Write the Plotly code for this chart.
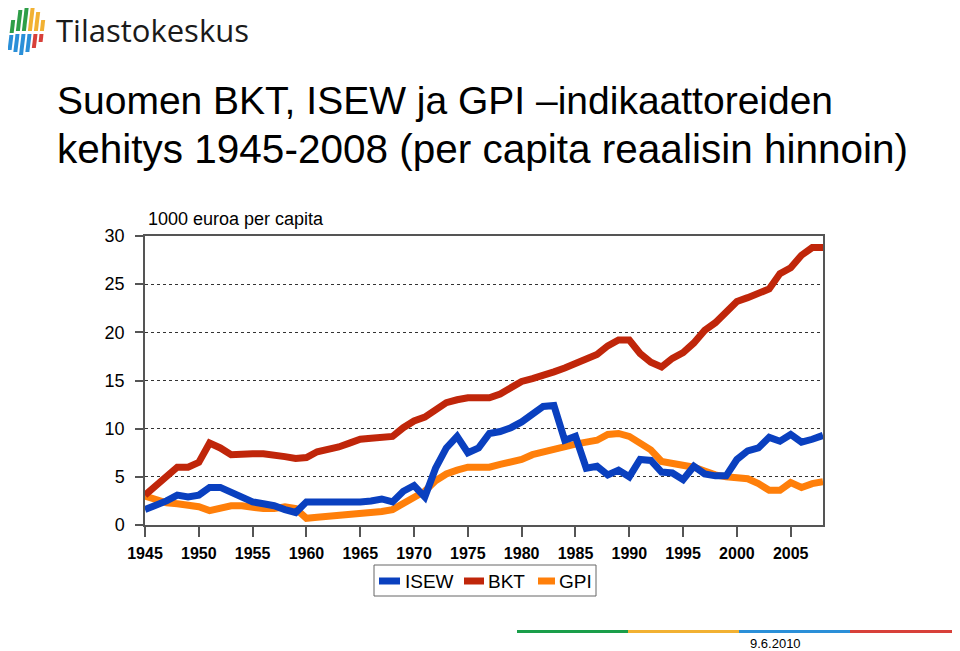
import plotly.graph_objects as go

years = list(range(1945, 2009))

bkt = [3.1, 4.0, 5.0, 6.0, 6.0, 6.5, 8.5, 8.0, 7.3, 7.4,
       7.4, 7.4, 7.3, 7.1, 6.9, 7.0, 7.6, 7.8, 8.1, 8.5,
       8.9, 9.0, 9.1, 9.2, 10.1, 10.8, 11.2, 12.0, 12.7, 13.0,
       13.2, 13.2, 13.2, 13.6, 14.3, 14.9, 15.2, 15.5, 15.9, 16.3,
       16.8, 17.2, 17.7, 18.6, 19.2, 19.2, 17.8, 16.9, 16.4, 17.3,
       17.9, 18.9, 20.2, 21.0, 22.0, 23.2, 23.6, 24.0, 24.5, 26.1,
       26.7, 28.0, 28.8, 28.8]

isew = [1.6, 2.0, 2.5, 3.1, 2.9, 3.1, 3.9, 3.9, 3.4, 2.8,
        2.4, 2.2, 2.0, 1.6, 1.3, 2.4, 2.4, 2.3, 2.3, 2.4,
        2.4, 2.5, 2.7, 2.4, 3.5, 4.1, 2.9, 5.9, 8.0, 9.2,
        7.5, 8.0, 9.5, 9.7, 10.1, 10.7, 11.5, 12.3, 12.4, 8.8,
        9.2, 5.9, 6.1, 5.2, 5.7, 5.0, 6.8, 6.7, 5.5, 5.4,
        4.7, 6.1, 5.3, 5.1, 5.1, 6.8, 7.7, 8.0, 9.1, 8.7,
        9.4, 8.6, 8.9, 9.3]

gpi = [3.0, 2.6, 2.3, 2.2, 2.1, 1.9, 1.5, 1.7, 2.0, 2.0,
       1.8, 1.7, 1.7, 1.9, 1.7, 0.7, 0.8, 0.9, 0.9, 1.0,
       1.1, 1.3, 1.4, 1.6, 2.2, 2.9, 3.5, 4.6, 5.3, 5.7,
       6.0, 6.0, 6.0, 6.3, 6.6, 6.8, 7.3, 7.6, 7.8, 8.1,
       8.4, 8.6, 8.8, 9.4, 9.5, 9.2, 8.5, 7.8, 6.6, 6.4,
       6.3, 6.0, 5.6, 5.2, 5.0, 4.9, 4.8, 4.3, 3.6, 3.6,
       4.4, 3.9, 4.3, 4.5]

series_names = ["ISEW", "BKT", "GPI"]
series_colors = {"ISEW": "#0A40BF", "BKT": "#C0260A", "GPI": "#FF7F0A"}

x_ticks = [1945, 1950, 1955, 1960, 1965, 1970, 1975, 1980, 1985, 1990, 1995, 2000, 2005]
y_ticks = [0, 5, 10, 15, 20, 25, 30]

# window pixel geometry (page body has an 8px margin)
OFF = 8
WIN_W, WIN_H = 960, 651
L, R, T, B = 145, 823, 236, 525
W, H = WIN_W - OFF, WIN_H - OFF


def px(x):
    return (x - L) / (R - L)


def py(y):
    return (B - y) / (B - T)


FONT = "Liberation Sans, Arial, sans-serif"

fig = go.Figure()
values = {"ISEW": isew, "BKT": bkt, "GPI": gpi}
for name in ["GPI", "BKT", "ISEW"]:
    fig.add_trace(go.Scatter(x=years, y=values[name], name=name, mode="lines",
                             showlegend=False,
                             line=dict(color=series_colors[name], width=7)))

shapes = []
# logo bars (slanted)
bars = [
    (7, 20, 33, "#2E9E48"), (7, 35, 50, "#2A8FD8"),
    (13, 10, 31, "#2E9E48"), (13, 34, 52, "#2A8FD8"),
    (19, 3, 31, "#2E9E48"), (19, 34, 55, "#2A8FD8"),
    (25, 5, 31, "#F2B132"), (25, 34, 52, "#2A8FD8"),
    (31, 12, 31, "#F2B132"), (31, 34, 48, "#D8403A"),
    (37, 20, 31, "#F2B132"), (37, 34, 42, "#D8403A"),
]
for bx, y0, y1, c in bars:
    s0 = (55 - y1) * 0.12
    s1 = (55 - y0) * 0.12
    path = (f"M {px(bx + s0)},{py(y1)} L {px(bx + s0 + 4)},{py(y1)} "
            f"L {px(bx + s1 + 4)},{py(y0)} L {px(bx + s1)},{py(y0)} Z")
    shapes.append(dict(type="path", xref="paper", yref="paper", path=path,
                       fillcolor=c, line=dict(width=0), layer="above"))

# bottom colour strip
for x0, x1, c in [(517, 628, "#1A9E4A"), (628, 739, "#F2B132"),
                  (739, 850, "#2A8FD8"), (850, 960, "#D8403A")]:
    shapes.append(dict(type="rect", xref="paper", yref="paper",
                       x0=px(x0), x1=px(x1), y0=py(633), y1=py(630),
                       fillcolor=c, line=dict(width=0)))

# legend box
shapes.append(dict(type="rect", xref="paper", yref="paper",
                   x0=px(374), x1=px(596), y0=py(596), y1=py(565),
                   fillcolor="white", line=dict(color="#666666", width=1)))
legend_items = [("ISEW", 379, 400, 403), ("BKT", 464, 484, 486), ("GPI", 538, 555, 557)]
annotations = []
for name, sx0, sx1, tx in legend_items:
    shapes.append(dict(type="line", xref="paper", yref="paper",
                       x0=px(sx0), x1=px(sx1), y0=py(581), y1=py(581),
                       line=dict(color=series_colors[name], width=7)))
    annotations.append(dict(text=name, x=px(tx), y=py(581), xanchor="left", yanchor="middle",
                            showarrow=False, xref="paper", yref="paper",
                            font=dict(family=FONT, size=19, color="#000000")))

annotations += [
    dict(text="Tilastokeskus", x=px(54), y=py(30), xanchor="left", yanchor="middle",
         showarrow=False, xref="paper", yref="paper",
         font=dict(family="Open Sans, sans-serif", size=31, color="#1A1A1A")),
    dict(text="Suomen BKT, ISEW ja GPI \u2013indikaattoreiden", x=px(55), y=py(101),
         xanchor="left", yanchor="middle", showarrow=False, xref="paper", yref="paper",
         font=dict(family=FONT, size=39, color="#000000")),
    dict(text="kehitys 1945-2008 (per capita reaalisin hinnoin)", x=px(55), y=py(149),
         xanchor="left", yanchor="middle", showarrow=False, xref="paper", yref="paper",
         font=dict(family=FONT, size=40.5, color="#000000")),
    dict(text="1000 euroa per capita", x=px(146), y=py(219),
         xanchor="left", yanchor="middle", showarrow=False, xref="paper", yref="paper",
         font=dict(family=FONT, size=18, color="#000000")),
    dict(text="9.6.2010", x=px(775), y=py(643),
         xanchor="center", yanchor="middle", showarrow=False, xref="paper", yref="paper",
         font=dict(family=FONT, size=13, color="#000000")),
]

fig.update_layout(
    width=W, height=H,
    margin=dict(l=L - OFF, r=WIN_W - R, t=T - OFF, b=WIN_H - B, pad=0),
    paper_bgcolor="white", plot_bgcolor="white",
    showlegend=False,
    shapes=shapes,
    annotations=annotations,
    font=dict(family=FONT, color="#000000"),
)

fig.update_xaxes(range=[1945, 2008], tickvals=x_ticks, ticktext=[str(t) for t in x_ticks],
                 ticks="outside", ticklen=10, tickcolor="#555555", tickwidth=1.5,
                 ticklabelstandoff=3,
                 showline=True, linecolor="#555555", linewidth=1.5, mirror=True,
                 showgrid=False, zeroline=False,
                 tickfont=dict(family=FONT, size=16, color="#000000", weight="bold"))
fig.update_yaxes(range=[0, 30], tickvals=y_ticks,
                 ticks="outside", ticklen=8, tickcolor="#555555", tickwidth=1.5,
                 ticklabelstandoff=7,
                 showline=True, linecolor="#555555", linewidth=1.5, mirror=True,
                 showgrid=True, gridcolor="#333333", griddash="dot", gridwidth=1,
                 zeroline=False,
                 tickfont=dict(family=FONT, size=18, color="#000000"))

fig.write_html("out.html")
